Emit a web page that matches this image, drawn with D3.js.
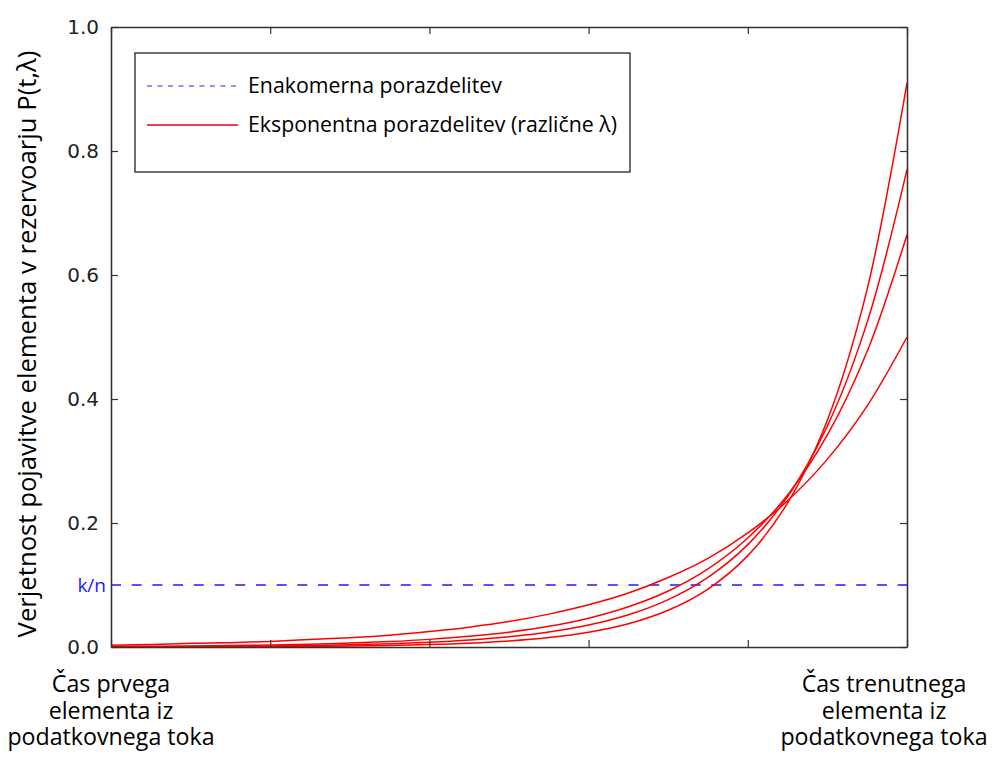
<!DOCTYPE html>
<html>
<head>
<meta charset="utf-8">
<script src="https://cdn.jsdelivr.net/npm/d3@7"></script>
<style>
  html, body { margin: 0; padding: 0; background: #fff; }
  svg { display: block; }
</style>
</head>
<body>
<div id="chart"></div>
<script>
// time axis samples (0 = first element, 1 = current element)
var timeSteps = [0, 0.05, 0.1, 0.15, 0.2, 0.25, 0.3, 0.35, 0.4, 0.45, 0.5,
                 0.55, 0.6, 0.65, 0.7, 0.75, 0.8, 0.85, 0.9, 0.95, 1];

// exponential curves (one per lambda)
var expLambda050 = [0.003, 0.004, 0.006, 0.007, 0.009, 0.012, 0.015, 0.019, 0.025, 0.032, 0.041,
                    0.053, 0.068, 0.087, 0.112, 0.143, 0.184, 0.236, 0.303, 0.389, 0.5];
var expLambda066 = [0.0009, 0.0012, 0.0017, 0.0023, 0.0033, 0.0045, 0.0063, 0.0088, 0.0123, 0.0172, 0.0239,
                    0.0333, 0.0465, 0.0649, 0.0904, 0.1261, 0.1759, 0.2452, 0.342, 0.4769, 0.665];
var expLambda077 = [0.0004, 0.0005, 0.0008, 0.0011, 0.0016, 0.0024, 0.0035, 0.0052, 0.0076, 0.0112, 0.0164,
                    0.0241, 0.0354, 0.052, 0.0765, 0.1124, 0.1651, 0.2427, 0.3566, 0.524, 0.77];
var expLambda091 = [0.0001, 0.0002, 0.0003, 0.0004, 0.0006, 0.001, 0.0016, 0.0025, 0.0039, 0.0061, 0.0096,
                    0.0152, 0.0239, 0.0376, 0.0593, 0.0935, 0.1474, 0.2323, 0.3662, 0.5773, 0.91];

var uniformValue = 0.1;   // k/n
var uniformLabel = "k/n";

var yTicks = [0, 0.2, 0.4, 0.6, 0.8, 1.0];
var xTicks = [0, 0.2, 0.4, 0.6, 0.8, 1.0];

var legendLabels = ["Enakomerna porazdelitev", "Eksponentna porazdelitev (različne λ)"];
var yTitle = "Verjetnost pojavitve elementa v rezervoarju P(t,λ)";
var startLabel = ["Čas prvega", "elementa iz", "podatkovnega toka"];
var endLabel = ["Čas trenutnega", "elementa iz", "podatkovnega toka"];

var width = 995;
var height = 762;
var plot = { left: 111, right: 907, top: 27, bottom: 647 };
var labelFont = "'Open Sans', 'Noto Sans', sans-serif";

var x = d3.scaleLinear().domain([0, 1]).range([plot.left, plot.right]);
var y = d3.scaleLinear().domain([0, 1]).range([plot.bottom, plot.top]);

var svg = d3.select("#chart")
  .append("svg")
  .attr("width", width)
  .attr("height", height);

var curves = [expLambda050, expLambda066, expLambda077, expLambda091];

var line = d3.line()
  .x(function (d, i) { return x(timeSteps[i]); })
  .y(function (d) { return y(d); })
  .curve(d3.curveCatmullRom);

svg.append("defs").append("clipPath")
  .attr("id", "plotClip")
  .append("rect")
  .attr("x", plot.left)
  .attr("y", plot.top)
  .attr("width", plot.right - plot.left)
  .attr("height", plot.bottom - plot.top);

var marks = svg.append("g").attr("clip-path", "url(#plotClip)");

// uniform distribution
marks.append("line")
  .attr("x1", x(0))
  .attr("x2", x(1))
  .attr("y1", y(uniformValue))
  .attr("y2", y(uniformValue))
  .attr("stroke", "#1a1aff")
  .attr("stroke-width", 1.6)
  .attr("stroke-dasharray", "10,10.7");

marks.selectAll("path.exp")
  .data(curves)
  .enter().append("path")
  .attr("class", "exp")
  .attr("d", line)
  .attr("fill", "none")
  .attr("stroke", "#ff0000")
  .attr("stroke-width", 1.5);

// axes: inward ticks on all four sides
var axisColor = "#333";
var tickLen = 7;

var leftAxis = d3.axisLeft(y).tickValues(yTicks).tickSizeInner(-tickLen).tickSizeOuter(0)
  .tickPadding(tickLen + 5).tickFormat(d3.format(".1f"));
var rightAxis = d3.axisRight(y).tickValues(yTicks).tickSizeInner(-tickLen).tickSizeOuter(0).tickFormat("");
var bottomAxis = d3.axisBottom(x).tickValues(xTicks).tickSizeInner(-tickLen).tickSizeOuter(0).tickFormat("");
var topAxis = d3.axisTop(x).tickValues(xTicks).tickSizeInner(-tickLen).tickSizeOuter(0).tickFormat("");

function styleAxis(g) {
  g.select(".domain").attr("stroke", axisColor).attr("stroke-width", 1.6);
  g.selectAll(".tick line").attr("stroke", axisColor).attr("stroke-width", 1.2);
  g.selectAll(".tick text")
    .attr("fill", "#222")
    .style("font-family", "'DejaVu Sans', sans-serif")
    .style("font-size", "20px");
}

svg.append("g").attr("transform", "translate(" + plot.left + ",0)").call(leftAxis).call(styleAxis);
svg.append("g").attr("transform", "translate(" + plot.right + ",0)").call(rightAxis).call(styleAxis);
svg.append("g").attr("transform", "translate(0," + plot.bottom + ")").call(bottomAxis).call(styleAxis);
svg.append("g").attr("transform", "translate(0," + plot.top + ")").call(topAxis).call(styleAxis);

// k/n label
svg.append("text")
  .attr("x", plot.left - 5)
  .attr("y", y(uniformValue))
  .attr("dy", "0.35em")
  .attr("text-anchor", "end")
  .attr("fill", "#1a1aff")
  .style("font-family", labelFont)
  .style("font-size", "19px")
  .text(uniformLabel);

// y title
svg.append("text")
  .attr("transform", "translate(36,344) rotate(-90)")
  .attr("text-anchor", "middle")
  .attr("fill", "#000")
  .style("font-family", labelFont)
  .style("font-size", "25.7px")
  .text(yTitle);

// time labels under the x axis, one text per line
function timeLabel(lines, cx) {
  svg.append("g").selectAll("text")
    .data(lines)
    .enter().append("text")
    .attr("x", cx)
    .attr("y", function (d, i) { return 692 + i * 26.7; })
    .attr("text-anchor", "middle")
    .attr("fill", "#000")
    .style("font-family", labelFont)
    .style("font-size", "23.2px")
    .text(function (d) { return d; });
}
timeLabel(startLabel, x(0));
timeLabel(endLabel, 884);

// legend
var legend = svg.append("g").attr("transform", "translate(135,53)");
legend.append("rect")
  .attr("width", 495)
  .attr("height", 119)
  .attr("fill", "#fff")
  .attr("stroke", "#222")
  .attr("stroke-width", 1.3);

var legendRows = legend.selectAll("g.row")
  .data(legendLabels)
  .enter().append("g")
  .attr("class", "row")
  .attr("transform", function (d, i) { return "translate(0," + (i === 0 ? 33 : 72) + ")"; });

legendRows.append("line")
  .attr("x1", 12)
  .attr("x2", 103)
  .attr("stroke", function (d, i) { return i === 0 ? "#2222ff" : "#f03c5a"; })
  .attr("stroke-width", function (d, i) { return i === 0 ? 1.2 : 2; })
  .attr("stroke-dasharray", function (d, i) { return i === 0 ? "5,5.5" : null; });

legendRows.append("text")
  .attr("x", 113)
  .attr("dy", "0.35em")
  .attr("fill", "#000")
  .style("font-family", labelFont)
  .style("font-size", "21.3px")
  .text(function (d) { return d; });
</script>
</body>
</html>
